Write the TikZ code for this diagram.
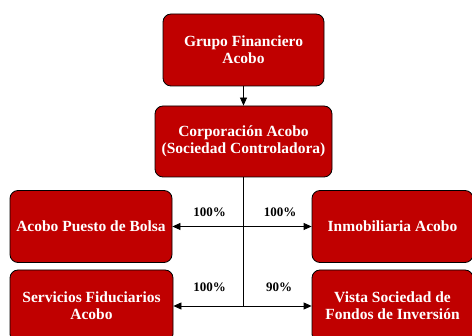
\documentclass[tikz,border=0pt]{standalone}
\usepackage{fontspec}
\setmainfont{Liberation Serif}
\usetikzlibrary{arrows.meta,positioning}
\definecolor{acoboRed}{HTML}{C00000}

\tikzset{
    entity/.style={draw=black, fill=acoboRed, rounded corners=8pt, line width=0.8pt,
        text=white, align=center, inner sep=0pt,
        font=\bfseries\fontsize{15.5}{17}\selectfont},
    share/.style={font=\bfseries\fontsize{13}{15}\selectfont},
    link/.style={line width=0.8pt, -{Triangle[length=8pt,width=7pt]}}
}

\begin{document}
\begin{tikzpicture}[x=1pt,y=-1pt]
    \useasboundingbox (0,0) rectangle (472,336);

    % Holding and controlling company
    \node[entity, minimum width=161pt, minimum height=72pt] (grupo) at (243.5,50) {Grupo Financiero\\Acobo};
    \node[entity, minimum width=177pt, minimum height=71pt] (corp) at (243.5,141.5) {Corporación Acobo\\(Sociedad Controladora)};

    % Subsidiaries
    \node[entity, minimum width=162pt, minimum height=72pt] (puesto) at (91,226.5) {Acobo Puesto de Bolsa};
    \node[entity, minimum width=161pt, minimum height=72pt] (inmob) at (392.5,226.5) {Inmobiliaria Acobo};
    \node[entity, minimum width=163pt, minimum height=72pt] (fiduc) at (91.5,306) {Servicios Fiduciarios\\Acobo};
    \node[entity, minimum width=161pt, minimum height=72pt] (vista) at (392.5,306) {Vista Sociedad de\\Fondos de Inversión};

    % Connectors
    \draw[link] (grupo) -- (corp);
    \coordinate (jTop) at (corp.south |- puesto.east);
    \coordinate (jBot) at (corp.south |- fiduc.east);
    \draw[line width=0.8pt] (corp) -- (jBot);
    \draw[link] (jTop) -- (puesto);
    \draw[link] (jTop) -- (inmob);
    \draw[link] (jBot) -- (fiduc);
    \draw[link] (jBot) -- (vista);

    % Ownership shares
    \node[share] (sPuesto) at (209.5,212) {100\%};
    \node[share] (sInmob) at (280,212) {100\%};
    \node[share] (sFiduc) at (209.5,287) {100\%};
    \node[share] (sVista) at (279,287) {90\%};
\end{tikzpicture}
\end{document}
